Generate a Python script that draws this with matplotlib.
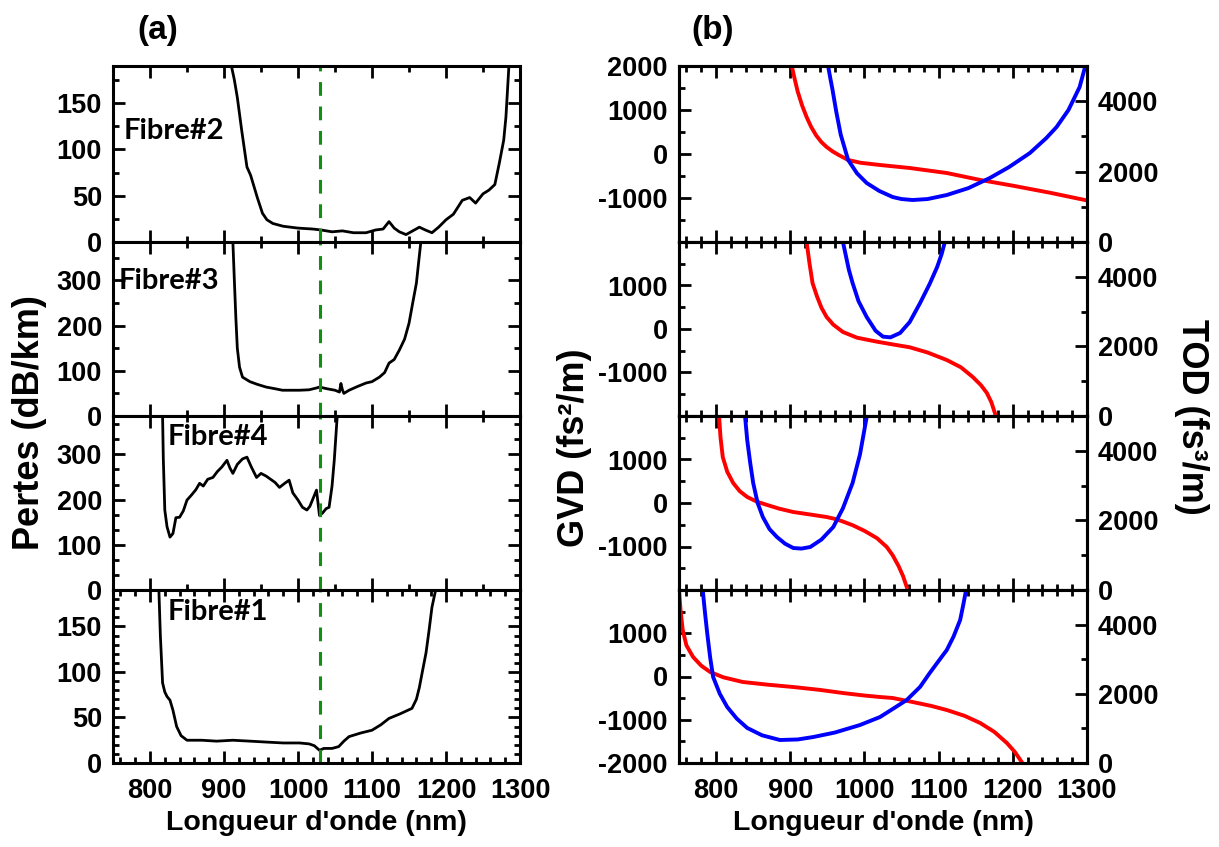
import numpy as np
import matplotlib
matplotlib.use('Agg')
import matplotlib.pyplot as plt
from matplotlib.ticker import MultipleLocator

plt.rcParams['font.family'] = ['Liberation Sans', 'DejaVu Sans']
plt.rcParams['font.weight'] = 'bold'
plt.rcParams['axes.linewidth'] = 2.2
plt.rcParams['axes.unicode_minus'] = False

# ---- (a) losses, dB/km ----
wl_f2 = [910, 914, 918, 924, 931, 936, 939, 945, 952, 958, 966, 980, 1000, 1020, 1031,
         1046, 1060, 1075, 1092, 1105, 1115, 1123, 1130, 1137, 1146, 1155, 1164, 1172,
         1181, 1190, 1200, 1210, 1222, 1232, 1240, 1250, 1258, 1266, 1272, 1278, 1281, 1285]
loss_f2 = [190, 175, 156, 120, 81, 72, 64, 48, 31, 24, 20, 17, 15, 14, 13,
           11, 12, 10, 10, 13, 14, 22, 15, 11, 8, 12, 16, 13,
           10, 16, 24, 30, 45, 48, 42, 52, 56, 62, 85, 110, 135, 190]

wl_f3 = [912, 914, 916, 918, 921, 925, 935, 945, 957, 970, 979, 990, 1002, 1015, 1025,
         1029, 1040, 1050, 1056, 1058, 1060, 1062, 1069, 1080, 1092, 1100, 1110, 1117,
         1123, 1130, 1137, 1144, 1150, 1155, 1160, 1163, 1166]
loss_f3 = [385, 300, 218, 150, 108, 86, 76, 70, 64, 60, 57, 57, 57, 58, 62,
           64, 60, 57, 53, 72, 58, 50, 57, 65, 73, 76, 86, 96,
           117, 125, 146, 170, 205, 250, 294, 340, 385]

wl_f4 = [817, 818, 820, 823, 827, 831, 835, 840, 845, 850, 856, 862, 867, 872, 878,
         885, 891, 897, 904, 908, 912, 918, 925, 931, 937, 944, 950, 957, 963, 969,
         975, 982, 988, 993, 1000, 1006, 1012, 1016, 1021, 1025, 1029, 1033, 1038,
         1042, 1046, 1049, 1053]
loss_f4 = [385, 290, 177, 140, 117, 125, 160, 161, 175, 199, 210, 222, 236, 230, 245,
           249, 262, 272, 287, 270, 258, 278, 290, 294, 272, 249, 258, 252, 245, 238,
           227, 236, 243, 215, 199, 183, 177, 185, 205, 221, 165, 170, 180,
           183, 230, 287, 385]

wl_f1 = [812, 814, 817, 820, 823, 827, 831, 836, 842, 850, 870, 890, 912, 935, 957,
         980, 1002, 1015, 1022, 1029, 1035, 1046, 1055, 1062, 1069, 1085, 1100, 1112,
         1123, 1138, 1154, 1160, 1164, 1168, 1173, 1177, 1181, 1186]
loss_f1 = [190, 140, 88, 78, 73, 69, 58, 40, 30, 25, 25, 24, 25, 24, 23,
           22, 22, 21, 19, 14, 16, 16, 18, 24, 29, 33, 36, 42,
           49, 54, 60, 70, 83, 100, 121, 145, 171, 190]

pump_wl = 1030

# ---- (b) GVD (fs^2/m) red, TOD (fs^3/m) blue ----
wl_gvd2 = [902, 906, 910, 916, 922, 928, 935, 942, 949, 957, 965, 978, 995, 1021,
           1061, 1111, 1156, 1200, 1250, 1297]
gvd2 = [2000, 1700, 1420, 1100, 841, 620, 420, 270, 159, 60, -20, -136, -200, -250,
        -318, -432, -590, -720, -880, -1045]
wl_tod2 = [951, 954, 957, 962, 968, 978, 990, 1003, 1020, 1038, 1050, 1065, 1085, 1111,
           1140, 1169, 1195, 1223, 1245, 1259, 1275, 1290, 1297]
tod2 = [5000, 4650, 4318, 3700, 3050, 2330, 1950, 1676, 1450, 1278, 1220, 1193, 1220,
        1335, 1530, 1818, 2130, 2528, 2950, 3267, 3750, 4400, 4943]

wl_gvd3 = [922, 926, 930, 936, 942, 949, 958, 971, 990, 1017, 1040, 1061, 1085, 1111,
           1130, 1146, 1157, 1165, 1171, 1176]
gvd3 = [2000, 1500, 1057, 750, 490, 276, 100, -69, -200, -292, -360, -420, -540, -713,
        -880, -1103, -1290, -1471, -1680, -1940]
wl_tod3 = [971, 975, 979, 984, 992, 1003, 1015, 1025, 1035, 1048, 1061, 1075, 1088,
           1098, 1104, 1108]
tod3 = [5000, 4600, 4200, 3822, 3300, 2845, 2450, 2280, 2260, 2385, 2700, 3247, 3800,
        4282, 4650, 4971]

wl_gvd4 = [804, 806, 809, 815, 823, 832, 842, 855, 869, 885, 904, 925, 949, 960, 970,
           984, 1000, 1017, 1030, 1038, 1046, 1052, 1057]
gvd4 = [2000, 1500, 1057, 720, 460, 270, 138, 30, -46, -130, -207, -260, -322, -365,
        -420, -510, -640, -810, -1010, -1200, -1450, -1680, -1931]
wl_tod4 = [839, 842, 846, 850, 856, 863, 872, 882, 893, 904, 915, 927, 942, 958, 971,
           984, 994, 1003]
tod4 = [5000, 4300, 3650, 3075, 2500, 2098, 1750, 1523, 1330, 1207, 1190, 1236, 1450,
        1810, 2350, 3075, 3900, 4971]

wl_gvd1 = [750, 752, 755, 760, 769, 780, 792, 810, 836, 870, 904, 940, 971, 1000, 1021,
           1038, 1065, 1090, 1111, 1135, 1156, 1175, 1192, 1203, 1212]
gvd1 = [2000, 1550, 1075, 720, 451, 250, 104, -20, -127, -190, -243, -310, -382, -440,
        -474, -497, -590, -680, -775, -910, -1075, -1280, -1538, -1750, -1977]
wl_tod1 = [782, 785, 788, 792, 796, 805, 815, 828, 842, 862, 886, 910, 931, 960, 994,
           1021, 1038, 1057, 1075, 1088, 1100, 1111, 1120, 1129, 1133, 1137]
tod1 = [5000, 4350, 3757, 3050, 2486, 2000, 1618, 1280, 1012, 800, 665, 680, 751, 880,
        1098, 1329, 1560, 1821, 2200, 2601, 2950, 3266, 3650, 4133, 4550, 5000]

fibre_names = ['Fibre#2', 'Fibre#3', 'Fibre#4', 'Fibre#1']
xticks = [800, 900, 1000, 1100, 1200, 1300]

W, H = 1219.0, 847.0
row_edges = [66, 242, 416, 590, 763]


def box(x0, x1, y0, y1):
    return [x0 / W, 1 - y1 / H, (x1 - x0) / W, (y1 - y0) / H]


def style(ax, lab_x):
    ax.tick_params(which='both', direction='in', top=True, width=2.0, labelsize=19.5)
    ax.tick_params(which='major', length=8.5)
    ax.tick_params(which='minor', length=4.5)
    ax.tick_params(axis='x', pad=11)
    ax.tick_params(axis='y', pad=8)
    ax.set_xlim(750, 1300)
    ax.set_xticks(xticks)
    if not lab_x:
        ax.tick_params(axis='x', labelbottom=False)


fig = plt.figure(figsize=(12.19, 8.47), dpi=100)

# ---- left column ----
loss_x = [wl_f2, wl_f3, wl_f4, wl_f1]
loss_y = [loss_f2, loss_f3, loss_f4, loss_f1]
loss_top = [190, 385, 385, 190]
loss_ticks = [[0, 50, 100, 150], [0, 100, 200, 300], [0, 100, 200, 300], [0, 50, 100, 150]]
loss_minor = [25, 50, 100 / 3, 10]
fib_pos = [(0.025, 0.63), (0.014, 0.776), (0.135, 0.879), (0.133, 0.873)]

for i in range(4):
    ax = fig.add_axes(box(113, 520, row_edges[i], row_edges[i + 1]))
    ax.plot(loss_x[i], loss_y[i], color='black', lw=2.0)
    ax.axvline(pump_wl, color='#109010', lw=2.2, ls=(0, (4.5, 3.5)))
    ax.set_ylim(0, loss_top[i])
    ax.set_yticks(loss_ticks[i])
    ax.yaxis.set_minor_locator(MultipleLocator(loss_minor[i]))
    ax.xaxis.set_minor_locator(MultipleLocator(20 if i == 3 else 50))
    style(ax, i == 3)
    ax.tick_params(which='both', right=True)
    ax.text(fib_pos[i][0], fib_pos[i][1], fibre_names[i], transform=ax.transAxes,
            family=['Lato', 'DejaVu Sans'], fontweight='bold', fontsize=21,
            va='center', ha='left')

# ---- right column ----
gvd_x = [wl_gvd2, wl_gvd3, wl_gvd4, wl_gvd1]
gvd_y = [gvd2, gvd3, gvd4, gvd1]
tod_x = [wl_tod2, wl_tod3, wl_tod4, wl_tod1]
tod_y = [tod2, tod3, tod4, tod1]
gvd_ticks = [[-1000, 0, 1000, 2000], [-1000, 0, 1000], [-1000, 0, 1000],
             [-2000, -1000, 0, 1000]]

for i in range(4):
    ax = fig.add_axes(box(679, 1087, row_edges[i], row_edges[i + 1]))
    ax.plot(gvd_x[i], gvd_y[i], color='#ff0000', lw=2.8, zorder=3)
    ax.set_ylim(-2000, 2000)
    ax.set_yticks(gvd_ticks[i])
    ax.yaxis.set_minor_locator(MultipleLocator(500))
    ax.xaxis.set_minor_locator(MultipleLocator(20))
    style(ax, i == 3)
    ax.tick_params(which='both', right=False)
    ax2 = ax.twinx()
    ax2.plot(tod_x[i], tod_y[i], color='#0000ff', lw=2.8)
    ax2.set_ylim(0, 5000)
    ax2.set_yticks([0, 2000, 4000])
    ax2.yaxis.set_minor_locator(MultipleLocator(1000))
    ax2.tick_params(which='both', direction='in', width=2.0, labelsize=19.5, pad=8)
    ax2.tick_params(which='major', length=8.5)
    ax2.tick_params(which='minor', length=4.5)

# ---- labels ----
fig.text(158 / W, 1 - 30 / H, '(a)', fontsize=24, ha='center', va='center')
fig.text(713 / W, 1 - 30 / H, '(b)', fontsize=24, ha='center', va='center')
fig.text(316 / W, 1 - 823 / H, "Longueur d'onde (nm)", fontsize=20.5, ha='center', va='center')
fig.text(883 / W, 1 - 823 / H, "Longueur d'onde (nm)", fontsize=20.5, ha='center', va='center')
fig.text(30 / W, 1 - 423 / H, 'Pertes (dB/km)', fontsize=26, rotation=90,
         ha='center', va='center')
fig.text(575 / W, 1 - 448 / H, 'GVD (fs²/m)', fontsize=26, rotation=90,
         ha='center', va='center')
fig.text(1192 / W, 1 - 417 / H, 'TOD (fs³/m)', fontsize=26, rotation=270,
         ha='center', va='center')

fig.savefig('out.png', dpi=100)
